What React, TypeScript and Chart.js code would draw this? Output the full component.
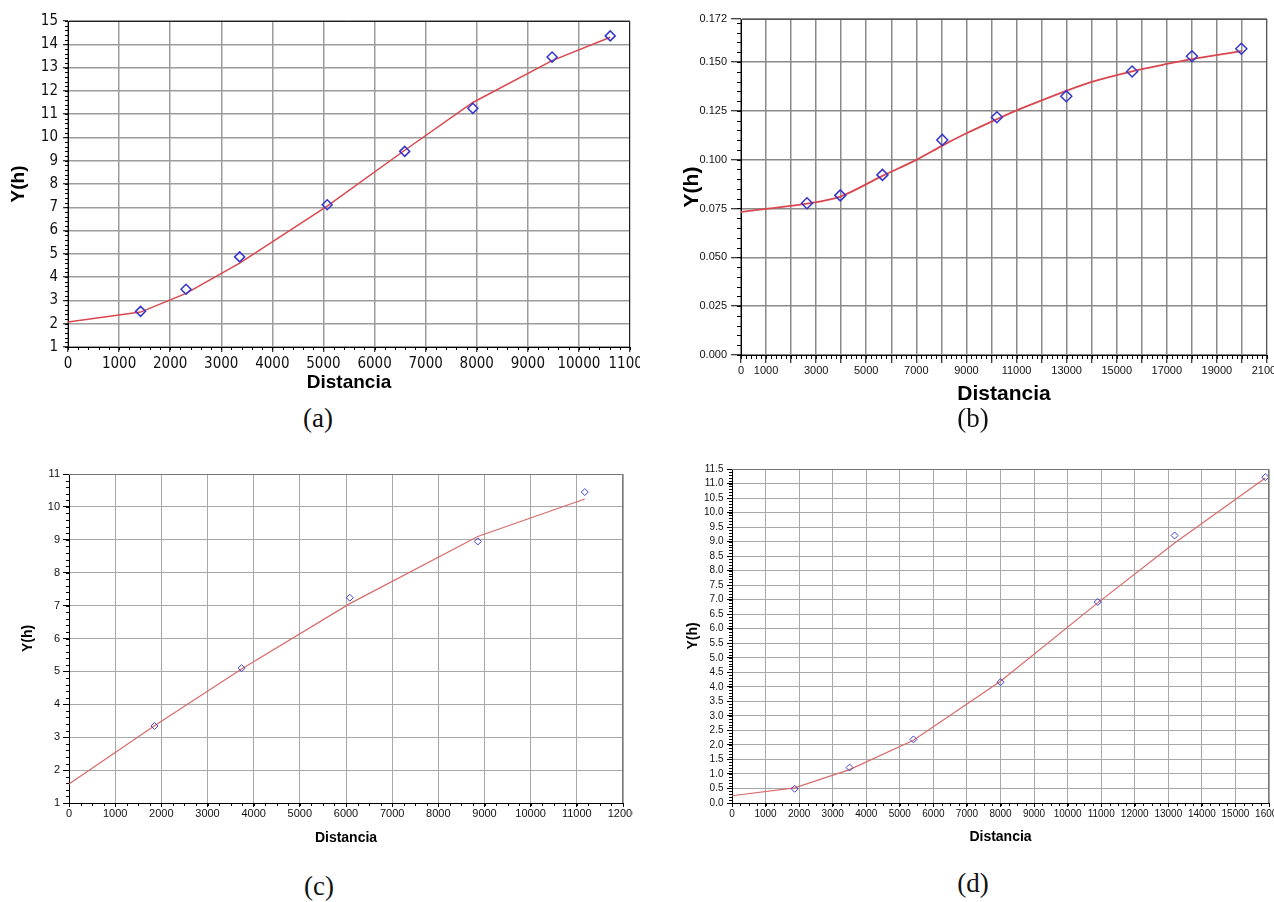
import React, { useEffect, useRef } from 'react';
import { Chart, registerables } from 'chart.js';
Chart.register(...registerables);

// ---------- Panel (a) ----------
const distA = [1420, 2310, 3360, 5073, 6591, 7924, 9475, 10614];
const yhA = [2.53, 3.48, 4.87, 7.11, 9.4, 11.25, 13.45, 14.36];
const fitDistA = [0, 1420, 2310, 3360, 5073, 6591, 7924, 9475, 10614];
const fitYhA = [2.07, 2.5, 3.3, 4.6, 7.05, 9.45, 11.5, 13.3, 14.3];
const xTicksA = [0, 1000, 2000, 3000, 4000, 5000, 6000, 7000, 8000, 9000, 10000, 11000];
const yTicksA = [1, 2, 3, 4, 5, 6, 7, 8, 9, 10, 11, 12, 13, 14, 15];

// ---------- Panel (b) ----------
const distB = [2635, 3965, 5648, 8035, 10215, 12987, 15615, 18003, 19974];
const yhB = [0.0777, 0.0817, 0.0922, 0.1101, 0.1217, 0.1325, 0.1451, 0.1529, 0.1568];
const fitDistB = [0, 1000, 2635, 3965, 5648, 7000, 8035, 9000, 10215, 11000, 12987, 14000, 15615, 17000, 18003, 19974];
const fitYhB = [0.0733, 0.0748, 0.0775, 0.0811, 0.0917, 0.0999, 0.1072, 0.1135, 0.1207, 0.1252, 0.1352, 0.1398, 0.1452, 0.149, 0.1515, 0.1556];
const xTicksB = [0, 1000, 2000, 3000, 4000, 5000, 6000, 7000, 8000, 9000, 10000, 11000, 12000, 13000, 14000, 15000, 16000, 17000, 18000, 19000, 20000, 21000];
const xLabelsB = ['0', '1000', '', '3000', '', '5000', '', '7000', '', '9000', '', '11000', '', '13000', '', '15000', '', '17000', '', '19000', '', '21000'];
const yTicksB = [0, 0.025, 0.05, 0.075, 0.1, 0.125, 0.15, 0.172];

// ---------- Panel (c) ----------
const distC = [1851, 3739, 6082, 8855, 11172];
const yhC = [3.34, 5.1, 7.24, 8.95, 10.45];
const fitDistC = [0, 1851, 3739, 6082, 8855, 11172];
const fitYhC = [1.58, 3.35, 5.07, 7.06, 9.1, 10.24];
const xTicksC = [0, 1000, 2000, 3000, 4000, 5000, 6000, 7000, 8000, 9000, 10000, 11000, 12000];
const yTicksC = [1, 2, 3, 4, 5, 6, 7, 8, 9, 10, 11];

// ---------- Panel (d) ----------
const distD = [1867, 3503, 5406, 8000, 10897, 13188, 15891];
const yhD = [0.49, 1.22, 2.19, 4.16, 6.92, 9.21, 11.22];
const fitDistD = [0, 1867, 3503, 5406, 8000, 10897, 13188, 15891];
const fitYhD = [0.25, 0.52, 1.15, 2.16, 4.19, 6.89, 8.95, 11.19];
const xTicksD = [0, 1000, 2000, 3000, 4000, 5000, 6000, 7000, 8000, 9000, 10000, 11000, 12000, 13000, 14000, 15000, 16000];
const yTicksD = [0, 0.5, 1, 1.5, 2, 2.5, 3, 3.5, 4, 4.5, 5, 5.5, 6, 6.5, 7, 7.5, 8, 8.5, 9, 9.5, 10, 10.5, 11, 11.5];

const captions = ['(a)', '(b)', '(c)', '(d)'];
const xTitle = 'Distancia';
const yTitle = 'Y(h)';

const SANS = "'Liberation Sans', Arial, sans-serif";
const NARROW = "'Liberation Sans Narrow', 'DejaVu Sans Condensed', 'Liberation Sans', Arial, sans-serif";

const minorTicksPlugin = {
  id: 'minorTicks',
  afterDraw(chart: any, _args: any, opts: any) {
    const { ctx, chartArea } = chart;
    const xs = chart.scales.x;
    const ys = chart.scales.y;
    ctx.save();
    ctx.strokeStyle = '#000';
    ctx.lineWidth = 1;
    ctx.beginPath();
    if (opts.x) {
      const n = Math.round((xs.max - xs.min) / opts.x);
      for (let i = 0; i <= n; i++) {
        const px = Math.round(xs.getPixelForValue(xs.min + i * opts.x)) + 0.5;
        ctx.moveTo(px, chartArea.bottom);
        ctx.lineTo(px, chartArea.bottom + opts.len);
      }
    }
    if (opts.y) {
      const n = Math.floor((ys.max - ys.min) / opts.y + 1e-6);
      for (let i = 0; i <= n; i++) {
        const py = Math.round(ys.getPixelForValue(ys.min + i * opts.y)) + 0.5;
        ctx.moveTo(chartArea.left, py);
        ctx.lineTo(chartArea.left - opts.len, py);
      }
    }
    ctx.stroke();
    ctx.strokeStyle = opts.frame || '#222';
    ctx.lineWidth = 1;
    ctx.beginPath();
    ctx.moveTo(chartArea.left, chartArea.top + 0.5);
    ctx.lineTo(chartArea.right - 0.5, chartArea.top + 0.5);
    ctx.lineTo(chartArea.right - 0.5, chartArea.bottom);
    ctx.stroke();
    ctx.restore();
  },
};

type Cfg = {
  left: number; top: number; width: number; height: number;
  pad: { left: number; top: number; right: number; bottom: number };
  yWidth: number; xHeight: number;
  xMin: number; xMax: number; yMin: number; yMax: number;
  xTicks: number[]; yTicks: number[];
  xLabel: (v: number, i: number) => string; yLabel: (v: number) => string;
  tickSize: number; tickFamily: string; titleSize: number;
  xTitlePad: number; yTitlePad: number;
  xTickLen: number; xTickPad: number; yTickLen: number; yTickPad: number;
  minorX: number; minorY: number; minorLen: number;
  gridColor: string; gridWidth: number; frame: string;
  lineColor: string; lineWidth: number; pointColor: string; pointRadius: number; pointBorder: number;
  dist: number[]; vals: number[]; fitDist: number[]; fitVals: number[]; tension: number;
};

const cfgs: Cfg[] = [
  {
    left: 0, top: 0, width: 640, height: 400,
    pad: { left: 0, top: 21, right: 10, bottom: 0 },
    yWidth: 68, xHeight: 53,
    xMin: 0, xMax: 11000, yMin: 1, yMax: 15,
    xTicks: xTicksA, yTicks: yTicksA,
    xLabel: (v) => String(v), yLabel: (v) => String(v),
    tickSize: 15, tickFamily: NARROW, titleSize: 19,
    xTitlePad: 5.6, yTitlePad: 7.2,
    xTickLen: 5, xTickPad: 3, yTickLen: 5, yTickPad: 5,
    minorX: 200, minorY: 0.2, minorLen: 3,
    gridColor: '#9c9c9c', gridWidth: 1.5, frame: '#222',
    lineColor: '#d9474f', lineWidth: 1.5, pointColor: '#3535cc', pointRadius: 5, pointBorder: 1.5,
    dist: distA, vals: yhA, fitDist: fitDistA, fitVals: fitYhA, tension: 0,
  },
  {
    left: 640, top: 0, width: 634, height: 410,
    pad: { left: 0, top: 19, right: 1, bottom: 0 },
    yWidth: 101, xHeight: 55,
    xMin: 0, xMax: 21000, yMin: 0, yMax: 0.172,
    xTicks: xTicksB, yTicks: yTicksB,
    xLabel: (_v, i) => xLabelsB[i] ?? '', yLabel: (v) => v.toFixed(3),
    tickSize: 11, tickFamily: SANS, titleSize: 21,
    xTitlePad: 3.4, yTitlePad: 39.4,
    xTickLen: 8, xTickPad: 1.5, yTickLen: 10, yTickPad: 4,
    minorX: 200, minorY: 0.005, minorLen: 4,
    gridColor: '#8a8a8a', gridWidth: 1.5, frame: '#555',
    lineColor: '#d9474f', lineWidth: 1.8, pointColor: '#3535cc', pointRadius: 5.5, pointBorder: 1.5,
    dist: distB, vals: yhB, fitDist: fitDistB, fitVals: fitYhB, tension: 0.3,
  },
  {
    left: 0, top: 440, width: 633, height: 410,
    pad: { left: 0, top: 34, right: 10, bottom: 0 },
    yWidth: 69, xHeight: 47,
    xMin: 0, xMax: 12000, yMin: 1, yMax: 11,
    xTicks: xTicksC, yTicks: yTicksC,
    xLabel: (v) => String(v), yLabel: (v) => String(v),
    tickSize: 11, tickFamily: SANS, titleSize: 14,
    xTitlePad: 3.6, yTitlePad: 19.6,
    xTickLen: 4, xTickPad: 0.5, yTickLen: 6, yTickPad: 3,
    minorX: 250, minorY: 0.2, minorLen: 3,
    gridColor: '#a8a8a8', gridWidth: 1, frame: '#777',
    lineColor: '#d86a6a', lineWidth: 1.2, pointColor: '#4040d0', pointRadius: 3.5, pointBorder: 1,
    dist: distC, vals: yhC, fitDist: fitDistC, fitVals: fitYhC, tension: 0,
  },
  {
    left: 640, top: 440, width: 634, height: 410,
    pad: { left: 0, top: 29, right: 5, bottom: 0 },
    yWidth: 92, xHeight: 47,
    xMin: 0, xMax: 16000, yMin: 0, yMax: 11.5,
    xTicks: xTicksD, yTicks: yTicksD,
    xLabel: (v) => String(v), yLabel: (v) => v.toFixed(1),
    tickSize: 10, tickFamily: SANS, titleSize: 14,
    xTitlePad: 4.6, yTitlePad: 44.6,
    xTickLen: 4, xTickPad: 1, yTickLen: 5, yTickPad: 3.5,
    minorX: 250, minorY: 0.1, minorLen: 3,
    gridColor: '#a8a8a8', gridWidth: 1, frame: '#777',
    lineColor: '#d86a6a', lineWidth: 1.2, pointColor: '#4040d0', pointRadius: 3.5, pointBorder: 1,
    dist: distD, vals: yhD, fitDist: fitDistD, fitVals: fitYhD, tension: 0,
  },
];

const captionPos = [
  { x: 318, y: 418 },
  { x: 973, y: 418 },
  { x: 319, y: 886 },
  { x: 973, y: 883 },
];

function Panel({ c }: { c: Cfg }) {
  const ref = useRef<HTMLCanvasElement | null>(null);
  useEffect(() => {
    if (!ref.current) return;
    const points = c.dist.map((d, i) => ({ x: d, y: c.vals[i] }));
    const fit = c.fitDist.map((d, i) => ({ x: d, y: c.fitVals[i] }));
    const tickFont = { size: c.tickSize, family: c.tickFamily };
    const titleFont = { size: c.titleSize, family: SANS, weight: 'bold' as const };
    const chart = new Chart(ref.current, {
      type: 'scatter',
      data: {
        datasets: [
          {
            data: points,
            showLine: false,
            pointStyle: 'rectRot',
            pointRadius: c.pointRadius,
            pointBorderWidth: c.pointBorder,
            pointBorderColor: c.pointColor,
            pointBackgroundColor: 'rgba(255,255,255,0)',
          },
          {
            data: fit,
            showLine: true,
            borderColor: c.lineColor,
            borderWidth: c.lineWidth,
            pointRadius: 0,
            tension: c.tension,
          },
        ],
      },
      options: {
        responsive: false,
        animation: false,
        layout: { padding: c.pad },
        plugins: {
          legend: { display: false },
          tooltip: { enabled: false },
          minorTicks: { x: c.minorX, y: c.minorY, len: c.minorLen, frame: c.frame },
        } as any,
        scales: {
          x: {
            type: 'linear',
            min: c.xMin,
            max: c.xMax,
            afterBuildTicks: (s: any) => { s.ticks = c.xTicks.map((v) => ({ value: v })); },
            afterFit: (s: any) => { s.height = c.xHeight; s.paddingLeft = 0; s.paddingRight = 0; },
            ticks: {
              autoSkip: false, maxRotation: 0, minRotation: 0,
              padding: c.xTickPad, color: '#111', font: tickFont,
              callback: (v: any, i: number) => c.xLabel(Number(v), i),
            },
            grid: { color: c.gridColor, lineWidth: c.gridWidth, tickLength: c.xTickLen, tickColor: '#000', tickWidth: 1 },
            border: { color: '#000', width: 1 },
            title: { display: true, text: xTitle, color: '#000', font: titleFont, padding: { top: 0, bottom: c.xTitlePad } },
          },
          y: {
            type: 'linear',
            min: c.yMin,
            max: c.yMax,
            afterBuildTicks: (s: any) => { s.ticks = c.yTicks.map((v) => ({ value: v })); },
            afterFit: (s: any) => { s.width = c.yWidth; s.paddingTop = 0; s.paddingBottom = 0; },
            ticks: {
              autoSkip: false,
              padding: c.yTickPad, color: '#111', font: tickFont,
              callback: (v: any) => c.yLabel(Number(v)),
            },
            grid: { color: c.gridColor, lineWidth: c.gridWidth, tickLength: c.yTickLen, tickColor: '#000', tickWidth: 1 },
            border: { color: '#000', width: 1 },
            title: { display: true, text: yTitle, color: '#000', font: titleFont, padding: { top: c.yTitlePad, bottom: 0 } },
          },
        },
      },
      plugins: [minorTicksPlugin],
    });
    return () => chart.destroy();
  }, [c]);
  return (
    <canvas
      ref={ref}
      width={c.width}
      height={c.height}
      style={{ position: 'absolute', left: c.left, top: c.top, width: c.width, height: c.height }}
    />
  );
}

export default function App() {
  return (
    <div style={{ position: 'absolute', left: 0, top: 0, width: 1274, height: 902, background: '#fff', overflow: 'hidden' }}>
      {cfgs.map((c, i) => (
        <Panel key={i} c={c} />
      ))}
      {captions.map((t, i) => (
        <div
          key={t}
          style={{
            position: 'absolute',
            left: captionPos[i].x - 50,
            top: captionPos[i].y - 15,
            width: 100,
            height: 30,
            lineHeight: '30px',
            textAlign: 'center',
            fontFamily: "'Liberation Serif', 'Times New Roman', serif",
            fontSize: 27,
            color: '#111',
          }}
        >
          {t}
        </div>
      ))}
    </div>
  );
}
